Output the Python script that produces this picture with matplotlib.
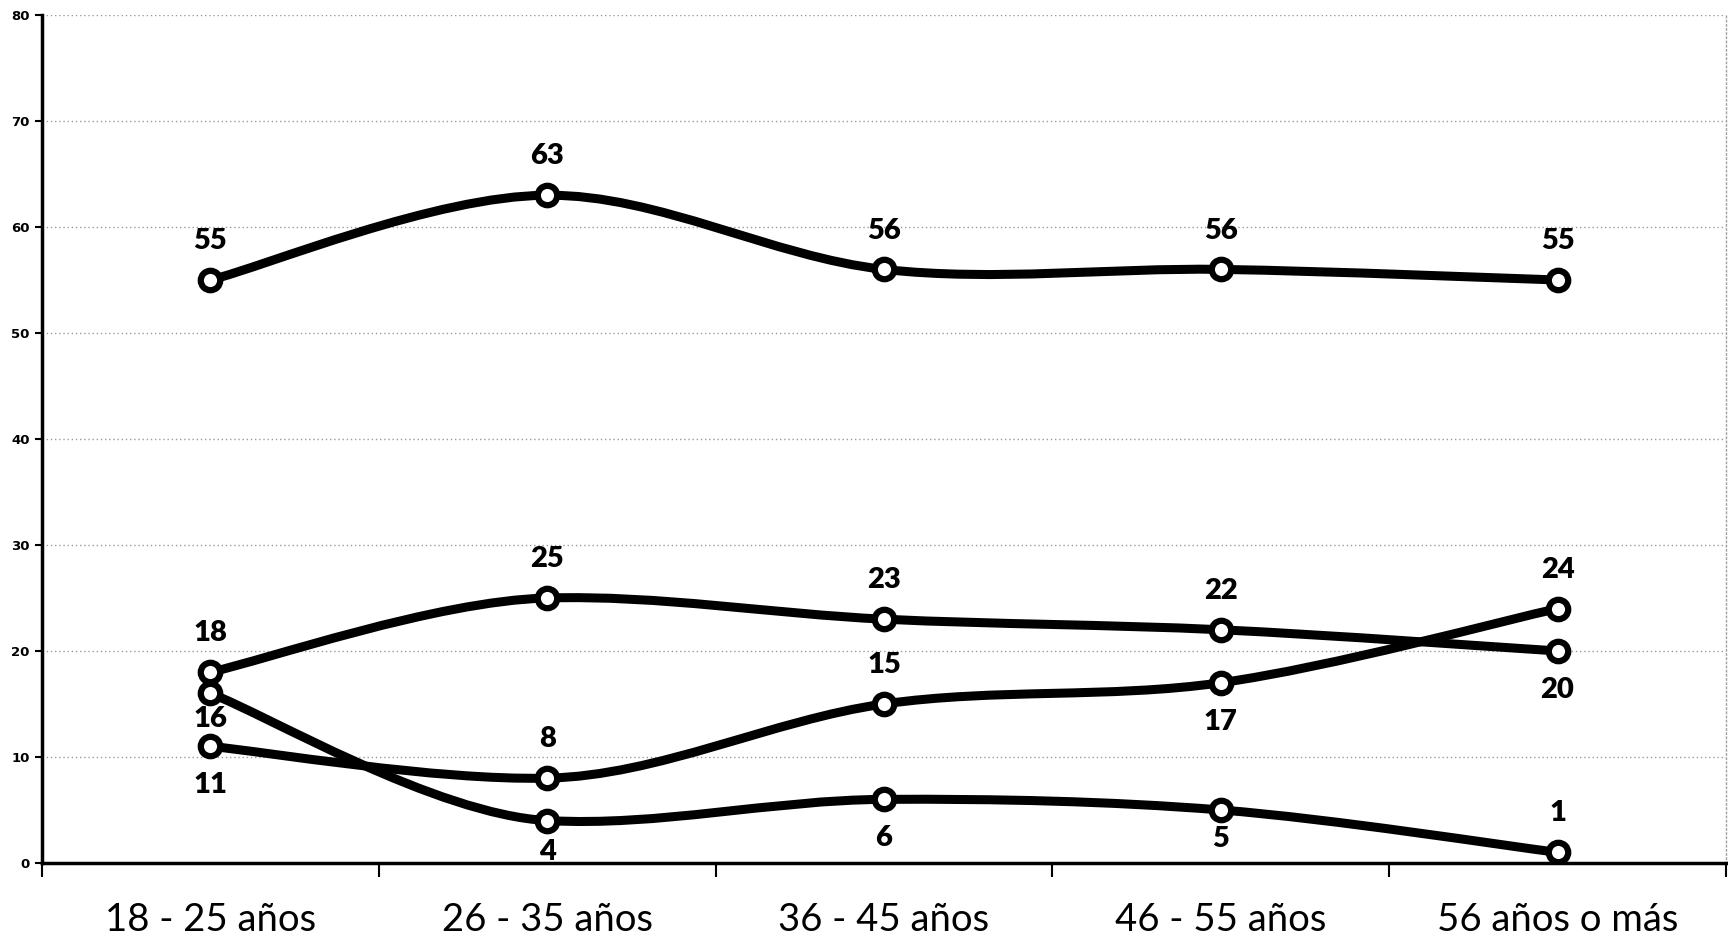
import matplotlib
matplotlib.use("Agg")
import matplotlib.pyplot as plt
from matplotlib.path import Path
from matplotlib.patches import PathPatch
import numpy as np

categories = ["18 - 25 años", "26 - 35 años", "36 - 45 años", "46 - 55 años", "56 años o más"]
serie_a = [55, 63, 56, 56, 55]
serie_b = [18, 25, 23, 22, 20]
serie_c = [11, 8, 15, 17, 24]
serie_d = [16, 4, 6, 5, 1]
y_ticks = [0, 10, 20, 30, 40, 50, 60, 70, 80]

# label placement: +1 above, -1 below
pos_a = [1, 1, 1, 1, 1]
pos_b = [1, 1, 1, 1, -1]
pos_c = [-1, 1, 1, -1, 1]
pos_d = [-0.65, -0.8, -1, -0.75, 1]

fig = plt.figure(figsize=(17.28, 9.38), dpi=100)
ax = fig.add_axes([0.0243, 0.08, 0.9745, 0.904])

x = np.arange(len(categories))


def smooth_path(xs, ys):
    pts = np.column_stack([xs, ys]).astype(float)
    n = len(pts)
    tang = []
    for i in range(n):
        p0 = pts[i - 1] if i > 0 else pts[i]
        p2 = pts[i + 1] if i + 1 < n else pts[i]
        t = (p2 - p0) / 6.0
        if 0 < i < n - 1:
            if (pts[i, 1] - p0[1]) * (p2[1] - pts[i, 1]) < 0:
                t = np.array([t[0], t[1] * 0.35])
        tang.append(t)
    verts = [pts[0]]
    codes = [Path.MOVETO]
    for i in range(n - 1):
        verts += [pts[i] + tang[i], pts[i + 1] - tang[i + 1], pts[i + 1]]
        codes += [Path.CURVE4] * 3
    return Path(verts, codes)


for ys, poss in [(serie_a, pos_a), (serie_b, pos_b), (serie_c, pos_c), (serie_d, pos_d)]:
    patch = PathPatch(smooth_path(x, ys), facecolor="none", edgecolor="black",
                      lw=6.5, capstyle="round", joinstyle="round", zorder=3)
    ax.add_patch(patch)
    ax.plot(x, ys, linestyle="none", marker="o", markersize=14,
            markerfacecolor="white", markeredgecolor="black", markeredgewidth=4.5, zorder=4)
    for xi, yi, p in zip(x, ys, poss):
        ax.annotate(str(yi), (xi, yi), xytext=(0, 28 * p), textcoords="offset points",
                    ha="center", va="center", fontsize=21, fontweight="heavy",
                    family="Lato", color="black", zorder=5)

ax.set_xlim(-0.5, 4.5)
ax.set_ylim(0, 80)
ax.set_yticks(y_ticks)
ax.set_yticklabels([str(v) for v in y_ticks], fontsize=9.5, fontweight="bold", family="DejaVu Sans")
ax.set_xticks(x)
ax.set_xticklabels(categories, fontsize=27.5, family="Lato")
ax.set_xticks(np.arange(-0.5, 5.0, 1.0), minor=True)
ax.tick_params(axis="x", which="major", length=0, pad=28)
ax.tick_params(axis="x", which="minor", length=10, width=1.5, direction="out")
ax.tick_params(axis="y", length=5, width=1.5, direction="out", pad=4)

ax.grid(axis="y", color="#9a9a9a", linestyle=(0, (1, 2)), linewidth=1.0, zorder=0)
ax.spines["top"].set_visible(False)
ax.spines["right"].set_color("#a0a0a0")
ax.spines["right"].set_linestyle((0, (1, 2)))
ax.spines["right"].set_linewidth(1.0)
ax.spines["left"].set_linewidth(2.5)
ax.spines["bottom"].set_linewidth(2.5)

fig.savefig("out.png", dpi=100)
